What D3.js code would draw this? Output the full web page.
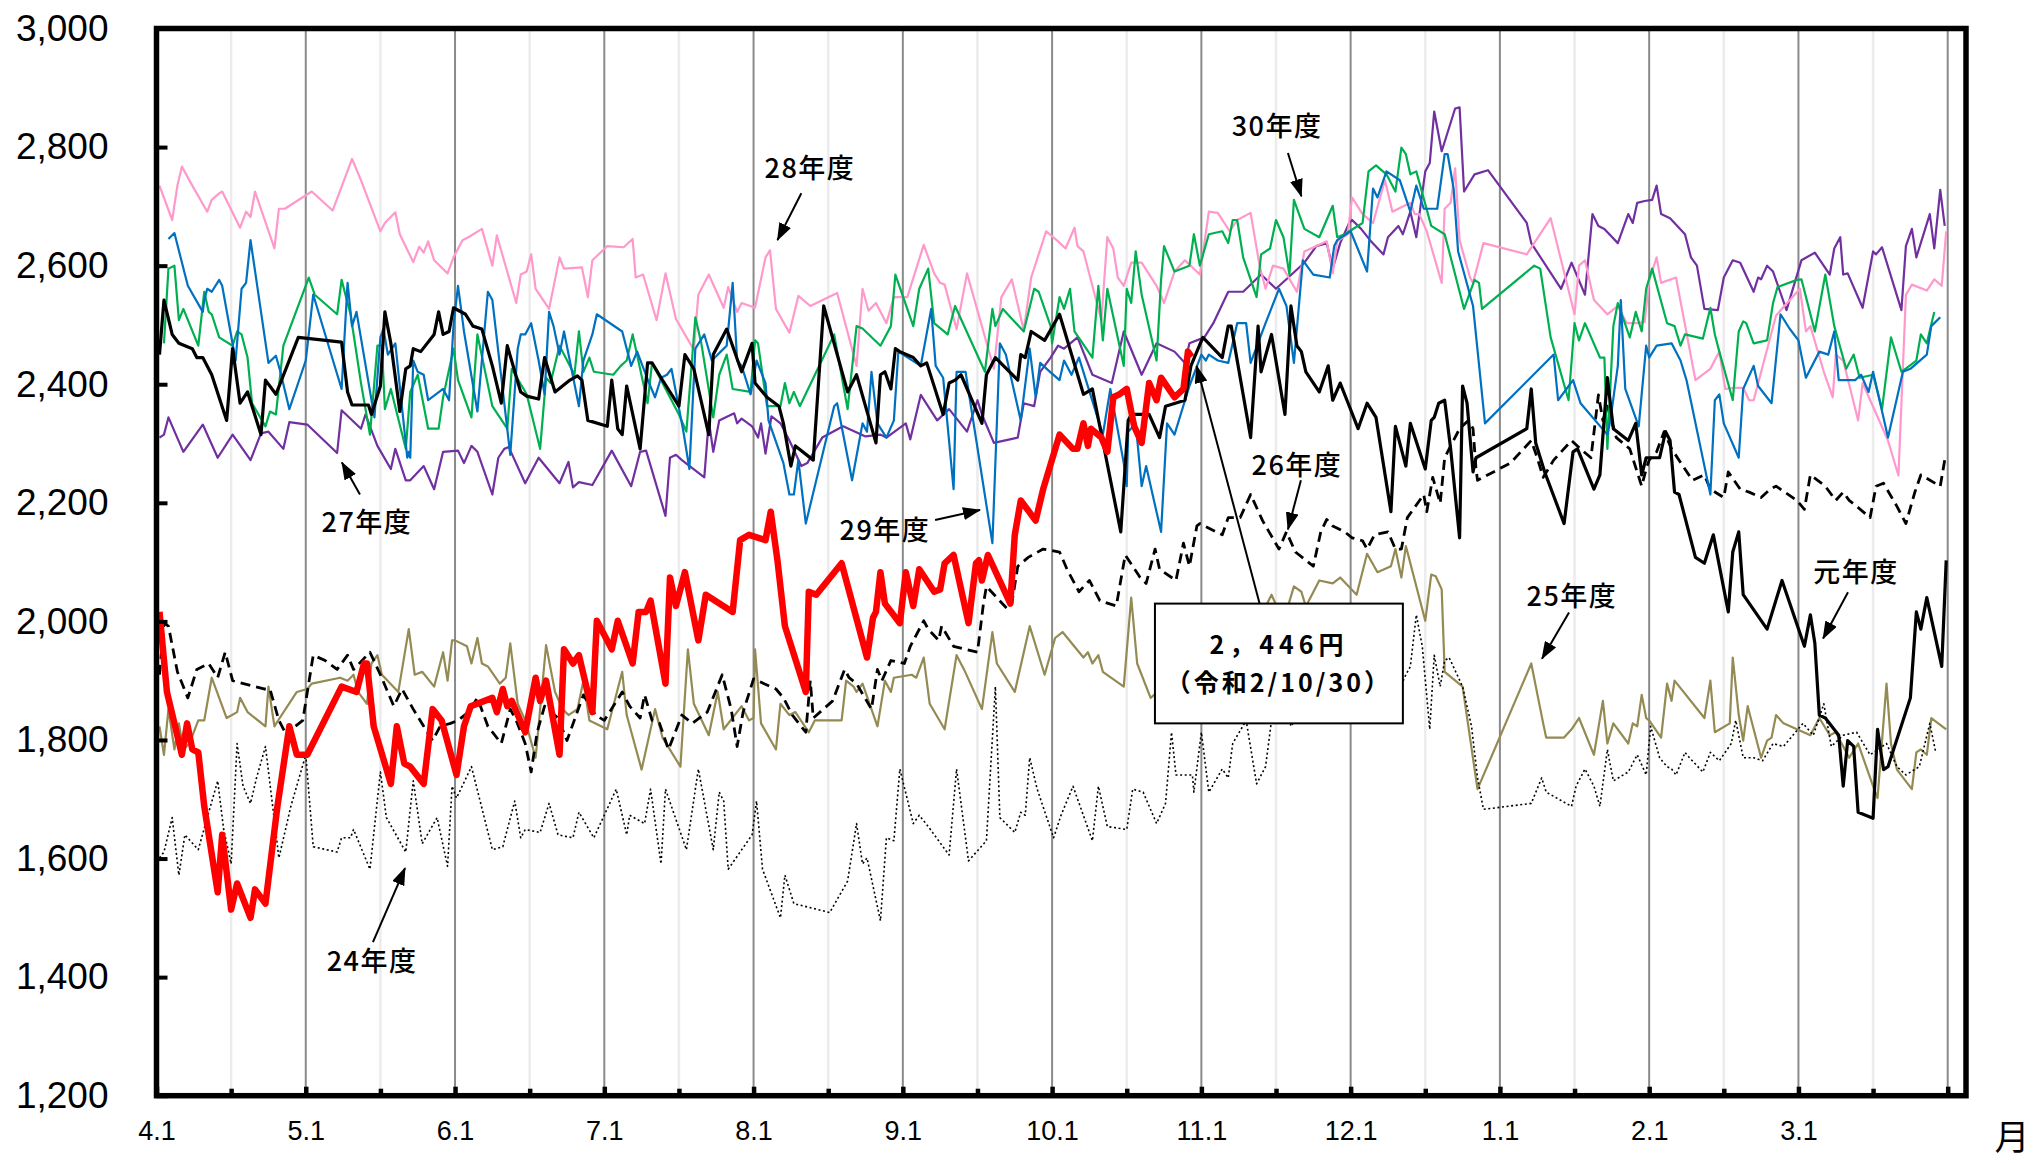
<!DOCTYPE html>
<html><head><meta charset="utf-8">
<script src="https://cdn.jsdelivr.net/npm/d3@7"></script>
<style>body{margin:0;background:#fff;}svg{display:block;}</style>
</head><body>
<script>
// x = months elapsed since April 1 (0 = 4.1, 12 = next 4.1); values in yen
const monthLabels = ["4.1","5.1","6.1","7.1","8.1","9.1","10.1","11.1","12.1","1.1","2.1","3.1"];
const yTicks = [1200,1400,1600,1800,2000,2200,2400,2600,2800,3000];

const fy24 = [[0.02,1601],[0.05,1611],[0.105,1669],[0.15,1572],[0.19,1640],[0.28,1615],[0.35,1678],[0.41,1731],[0.45,1649],[0.50,1591],[0.54,1794],[0.58,1722],[0.63,1693],[0.67,1736],[0.73,1789],[0.82,1601],[0.90,1688],[1.0,1775],[1.05,1620],[1.21,1611],[1.24,1635],[1.30,1635],[1.32,1649],[1.43,1582],[1.50,1746],[1.54,1669],[1.67,1611],[1.72,1731],[1.78,1625],[1.88,1669],[1.95,1587],[1.98,1722],[2.01,1702],[2.11,1755],[2.25,1615],[2.32,1620],[2.40,1697],[2.44,1635],[2.47,1649],[2.57,1644],[2.63,1693],[2.69,1640],[2.79,1635],[2.83,1678],[2.93,1635],[3.08,1717],[3.15,1640],[3.17,1673],[3.27,1659],[3.31,1717],[3.38,1591],[3.41,1717],[3.55,1615],[3.63,1751],[3.73,1615],[3.77,1712],[3.80,1697],[3.83,1582],[3.99,1640],[4.02,1697],[4.06,1582],[4.18,1500],[4.21,1572],[4.27,1524],[4.51,1509],[4.63,1562],[4.69,1659],[4.73,1591],[4.76,1601],[4.85,1495],[4.89,1635],[4.94,1630],[4.98,1751],[5.07,1659],[5.11,1673],[5.17,1654],[5.31,1606],[5.36,1751],[5.44,1596],[5.56,1630],[5.62,1890],[5.65,1669],[5.75,1644],[5.79,1678],[5.82,1673],[5.85,1770],[5.90,1717],[6.01,1635],[6.06,1673],[6.14,1722],[6.27,1630],[6.31,1722],[6.37,1654],[6.50,1649],[6.54,1717],[6.61,1712],[6.70,1659],[6.76,1693],[6.80,1813],[6.83,1741],[6.94,1741],[6.95,1712],[7.0,1813],[7.05,1712],[7.14,1751],[7.18,1736],[7.21,1794],[7.30,1833],[7.37,1726],[7.43,1755],[7.47,1833],[7.55,1880],[7.60,1823],[7.70,1860],[7.80,1900],[7.90,1870],[8.0,1890],[8.10,1930],[8.20,1900],[8.30,1870],[8.37,1910],[8.40,1924],[8.44,2011],[8.48,1958],[8.53,1818],[8.56,1943],[8.60,1890],[8.63,1934],[8.66,1939],[8.75,1890],[8.81,1823],[8.85,1736],[8.89,1683],[9.21,1693],[9.28,1736],[9.31,1712],[9.48,1688],[9.51,1722],[9.57,1751],[9.63,1722],[9.67,1688],[9.72,1784],[9.76,1731],[9.86,1746],[9.92,1775],[9.98,1741],[10.01,1823],[10.07,1770],[10.12,1755],[10.15,1751],[10.18,1741],[10.24,1779],[10.27,1770],[10.36,1746],[10.41,1779],[10.47,1765],[10.55,1794],[10.58,1833],[10.63,1770],[10.70,1770],[10.76,1765],[10.83,1794],[10.90,1789],[11.03,1828],[11.10,1808],[11.17,1861],[11.22,1789],[11.30,1808],[11.39,1813],[11.48,1775],[11.59,1794],[11.66,1755],[11.72,1741],[11.81,1755],[11.88,1828],[11.92,1779]];

const fy25 = [[0.02,1823],[0.05,1775],[0.08,1852],[0.12,1784],[0.15,1828],[0.18,1784],[0.22,1794],[0.28,1833],[0.32,1833],[0.37,1905],[0.47,1837],[0.54,1847],[0.56,1871],[0.61,1847],[0.73,1823],[0.75,1890],[0.79,1823],[0.82,1835],[0.94,1881],[1.01,1886],[1.04,1895],[1.23,1905],[1.28,1900],[1.32,1910],[1.35,1881],[1.41,1861],[1.44,1929],[1.48,1943],[1.51,1910],[1.62,1881],[1.69,1987],[1.73,1910],[1.78,1915],[1.86,1890],[1.92,1948],[1.95,1900],[1.98,1968],[2.0,1968],[2.08,1958],[2.11,1929],[2.15,1972],[2.18,1929],[2.22,1924],[2.30,1895],[2.34,1905],[2.37,1963],[2.42,1861],[2.47,1833],[2.54,1770],[2.61,1960],[2.67,1881],[2.72,1852],[2.76,1842],[2.82,1852],[2.86,1900],[2.90,1833],[3.02,1818],[3.12,1915],[3.15,1842],[3.25,1750],[3.34,1852],[3.39,1804],[3.51,1755],[3.56,1953],[3.60,1861],[3.70,1808],[3.76,1881],[3.80,1818],[3.92,1857],[3.97,1833],[4.0,1837],[4.01,1953],[4.05,1828],[4.15,1784],[4.18,1861],[4.24,1842],[4.28,1847],[4.37,1813],[4.41,1833],[4.59,1833],[4.62,1900],[4.67,1890],[4.69,1881],[4.73,1895],[4.83,1823],[4.88,1900],[4.92,1881],[4.94,1905],[5.06,1910],[5.09,1905],[5.14,1939],[5.18,1861],[5.28,1818],[5.36,1943],[5.41,1919],[5.53,1852],[5.60,1982],[5.63,1929],[5.75,1881],[5.85,1992],[5.95,1910],[6.02,1972],[6.07,1982],[6.21,1939],[6.24,1948],[6.27,1929],[6.31,1943],[6.34,1915],[6.48,1890],[6.53,2040],[6.57,1929],[6.66,1871],[6.80,1900],[6.95,1950],[7.10,1930],[7.25,1990],[7.40,2010],[7.47,2045],[7.55,2000],[7.62,2059],[7.67,2050],[7.70,2025],[7.79,2069],[7.88,2064],[7.93,2074],[8.04,2045],[8.11,2114],[8.18,2083],[8.27,2093],[8.30,2122],[8.34,2074],[8.37,2127],[8.50,2001],[8.54,2079],[8.57,2076],[8.61,2054],[8.63,1915],[8.75,1890],[8.85,1717],[9.21,1929],[9.29,1828],[9.31,1804],[9.43,1804],[9.48,1818],[9.53,1837],[9.63,1775],[9.69,1866],[9.72,1794],[9.76,1828],[9.86,1794],[9.89,1828],[9.92,1823],[9.95,1876],[9.98,1837],[10.0,1833],[10.08,1804],[10.12,1895],[10.15,1866],[10.17,1900],[10.37,1837],[10.41,1900],[10.44,1813],[10.54,1828],[10.56,1939],[10.60,1842],[10.63,1799],[10.66,1857],[10.75,1770],[10.79,1799],[10.82,1804],[10.85,1842],[10.90,1828],[11.08,1808],[11.14,1837],[11.21,1808],[11.25,1813],[11.34,1770],[11.40,1794],[11.50,1722],[11.53,1702],[11.59,1895],[11.62,1794],[11.66,1750],[11.76,1717],[11.79,1779],[11.82,1784],[11.86,1775],[11.89,1837],[11.99,1818]];

const fy26 = [[0.02,1910],[0.05,1997],[0.08,1992],[0.14,1915],[0.21,1871],[0.27,1919],[0.35,1929],[0.41,1905],[0.46,1948],[0.48,1929],[0.51,1900],[0.72,1886],[0.76,1886],[0.82,1833],[0.88,1804],[0.93,1823],[0.98,1833],[1.05,1943],[1.13,1934],[1.21,1919],[1.28,1943],[1.32,1919],[1.43,1948],[1.50,1910],[1.59,1857],[1.645,1886],[1.72,1852],[1.79,1823],[1.85,1799],[1.90,1823],[1.97,1828],[2.02,1833],[2.09,1847],[2.15,1871],[2.22,1823],[2.31,1794],[2.37,1852],[2.41,1833],[2.47,1794],[2.51,1746],[2.55,1813],[2.60,1857],[2.69,1837],[2.75,1799],[2.86,1876],[2.94,1842],[3.0,1833],[3.12,1881],[3.17,1857],[3.24,1837],[3.27,1876],[3.32,1833],[3.37,1828],[3.43,1784],[3.52,1842],[3.59,1828],[3.69,1847],[3.79,1910],[3.85,1852],[3.89,1789],[3.93,1847],[4.0,1903],[4.15,1886],[4.20,1871],[4.26,1842],[4.35,1813],[4.38,1900],[4.40,1837],[4.53,1866],[4.61,1919],[4.64,1905],[4.69,1895],[4.79,1852],[4.83,1919],[4.86,1900],[4.92,1934],[5.01,1929],[5.05,1958],[5.14,2001],[5.17,1987],[5.24,1968],[5.26,1992],[5.34,1958],[5.50,1948],[5.54,2030],[5.56,2059],[5.70,2021],[5.73,2030],[5.77,2093],[5.84,2108],[5.94,2122],[6.05,2117],[6.10,2088],[6.18,2050],[6.25,2069],[6.32,2035],[6.43,2026],[6.49,2112],[6.59,2074],[6.63,2064],[6.69,2122],[6.72,2088],[6.83,2069],[6.88,2132],[6.92,2093],[6.97,2161],[6.99,2165],[7.14,2146],[7.18,2175],[7.26,2175],[7.33,2214],[7.41,2170],[7.52,2122],[7.57,2151],[7.63,2117],[7.75,2093],[7.80,2151],[7.84,2172],[7.88,2161],[7.96,2151],[8.01,2141],[8.08,2136],[8.11,2122],[8.16,2146],[8.25,2151],[8.30,2122],[8.34,2122],[8.38,2175],[8.49,2214],[8.51,2185],[8.55,2243],[8.60,2199],[8.63,2276],[8.66,2291],[8.73,2325],[8.79,2339],[8.82,2325],[8.84,2257],[8.85,2238],[9.07,2267],[9.21,2305],[9.25,2276],[9.29,2243],[9.36,2272],[9.48,2305],[9.54,2291],[9.61,2276],[9.66,2382],[9.69,2339],[9.72,2363],[9.78,2310],[9.87,2291],[9.95,2228],[9.98,2257],[10.0,2272],[10.05,2286],[10.10,2320],[10.15,2291],[10.29,2238],[10.37,2247],[10.41,2223],[10.50,2209],[10.53,2252],[10.61,2223],[10.67,2218],[10.75,2209],[10.81,2223],[10.85,2228],[10.99,2204],[11.04,2189],[11.08,2247],[11.18,2228],[11.25,2204],[11.30,2218],[11.34,2204],[11.39,2194],[11.48,2175],[11.52,2228],[11.57,2233],[11.66,2194],[11.72,2165],[11.78,2218],[11.82,2247],[11.95,2228],[11.98,2272]];

const fy27 = [[0.02,2310],[0.05,2315],[0.08,2344],[0.18,2286],[0.31,2332],[0.41,2276],[0.51,2315],[0.63,2272],[0.70,2317],[0.75,2320],[0.85,2291],[0.89,2336],[1.01,2332],[1.21,2284],[1.24,2356],[1.37,2325],[1.40,2349],[1.48,2296],[1.57,2257],[1.60,2291],[1.67,2238],[1.70,2238],[1.79,2262],[1.86,2223],[1.92,2286],[2.02,2288],[2.06,2267],[2.11,2296],[2.15,2286],[2.25,2214],[2.29,2276],[2.33,2291],[2.36,2294],[2.47,2233],[2.56,2276],[2.70,2233],[2.76,2269],[2.79,2226],[2.83,2235],[2.92,2230],[3.05,2288],[3.18,2228],[3.24,2286],[3.28,2288],[3.41,2178],[3.44,2276],[3.48,2281],[3.52,2272],[3.67,2243],[3.70,2339],[3.73,2286],[3.77,2339],[3.87,2351],[3.89,2334],[3.92,2342],[3.99,2329],[4.03,2310],[4.05,2334],[4.08,2283],[4.12,2346],[4.18,2334],[4.24,2305],[4.32,2262],[4.36,2267],[4.46,2310],[4.60,2329],[4.75,2312],[4.85,2315],[4.89,2310],[5.02,2334],[5.05,2307],[5.12,2382],[5.23,2339],[5.31,2358],[5.43,2320],[5.50,2373],[5.53,2349],[5.61,2301],[5.77,2310],[5.81,2368],[5.88,2363],[5.92,2421],[5.99,2445],[6.04,2465],[6.08,2460],[6.17,2479],[6.27,2416],[6.40,2402],[6.48,2489],[6.60,2416],[6.70,2469],[6.82,2455],[6.89,2436],[6.92,2469],[7.02,2479],[7.08,2503],[7.18,2556],[7.28,2556],[7.40,2585],[7.50,2561],[7.69,2605],[7.77,2633],[7.84,2638],[7.88,2595],[7.93,2638],[7.99,2672],[8.01,2677],[8.07,2662],[8.13,2643],[8.22,2619],[8.25,2648],[8.32,2667],[8.35,2653],[8.40,2691],[8.44,2648],[8.50,2759],[8.53,2773],[8.56,2860],[8.61,2793],[8.70,2865],[8.73,2867],[8.76,2725],[8.83,2754],[8.92,2761],[9.18,2672],[9.21,2638],[9.41,2561],[9.48,2605],[9.57,2551],[9.62,2687],[9.66,2667],[9.70,2662],[9.79,2638],[9.86,2687],[9.89,2672],[9.92,2706],[9.97,2709],[10.02,2711],[10.05,2735],[10.08,2687],[10.14,2680],[10.24,2653],[10.28,2614],[10.32,2600],[10.37,2527],[10.46,2525],[10.50,2580],[10.56,2609],[10.61,2605],[10.70,2556],[10.73,2580],[10.75,2577],[10.79,2600],[10.83,2590],[10.92,2525],[11.02,2609],[11.11,2622],[11.21,2585],[11.24,2629],[11.28,2648],[11.30,2585],[11.33,2587],[11.43,2529],[11.50,2624],[11.52,2619],[11.56,2631],[11.69,2525],[11.72,2633],[11.76,2662],[11.79,2614],[11.88,2687],[11.91,2629],[11.95,2728],[11.98,2667]];

const fy28 = [[0.02,2735],[0.105,2677],[0.14,2735],[0.17,2767],[0.24,2735],[0.34,2691],[0.37,2711],[0.42,2722],[0.44,2725],[0.56,2664],[0.60,2691],[0.63,2682],[0.66,2725],[0.79,2629],[0.82,2696],[0.86,2696],[1.04,2725],[1.18,2693],[1.31,2780],[1.37,2744],[1.50,2658],[1.53,2672],[1.60,2690],[1.63,2653],[1.72,2606],[1.76,2632],[1.79,2622],[1.82,2641],[1.86,2609],[1.95,2587],[1.99,2614],[2.05,2643],[2.09,2648],[2.18,2662],[2.25,2600],[2.28,2651],[2.41,2537],[2.44,2585],[2.48,2590],[2.51,2619],[2.54,2561],[2.63,2527],[2.70,2614],[2.73,2595],[2.85,2597],[2.89,2547],[2.92,2609],[3.02,2633],[3.13,2631],[3.19,2645],[3.21,2580],[3.26,2585],[3.35,2508],[3.41,2587],[3.48,2510],[3.60,2458],[3.63,2551],[3.70,2585],[3.80,2529],[3.83,2564],[3.89,2522],[3.92,2537],[4.01,2529],[4.08,2614],[4.11,2626],[4.15,2527],[4.24,2487],[4.30,2549],[4.38,2532],[4.56,2554],[4.69,2431],[4.73,2561],[4.77,2524],[4.82,2537],[4.89,2503],[4.94,2547],[5.03,2547],[5.14,2635],[5.21,2587],[5.25,2571],[5.28,2568],[5.36,2493],[5.43,2587],[5.61,2426],[5.66,2547],[5.73,2577],[5.81,2491],[5.86,2580],[5.96,2658],[6.04,2641],[6.09,2629],[6.15,2664],[6.17,2633],[6.21,2624],[6.31,2527],[6.33,2508],[6.37,2648],[6.41,2629],[6.44,2580],[6.48,2566],[6.53,2605],[6.60,2605],[6.70,2566],[6.75,2537],[6.82,2590],[6.89,2609],[6.99,2585],[7.05,2691],[7.11,2689],[7.19,2658],[7.24,2677],[7.33,2689],[7.39,2600],[7.43,2561],[7.48,2600],[7.55,2595],[7.64,2556],[7.69,2624],[7.84,2641],[7.88,2587],[7.91,2641],[7.98,2653],[8.01,2715],[8.08,2687],[8.15,2672],[8.23,2744],[8.28,2691],[8.40,2706],[8.43,2687],[8.46,2687],[8.51,2658],[8.61,2571],[8.63,2696],[8.67,2706],[8.70,2764],[8.73,2643],[8.80,2580],[8.82,2571],[8.89,2638],[9.18,2619],[9.34,2680],[9.50,2518],[9.53,2600],[9.57,2609],[9.63,2542],[9.72,2518],[9.79,2532],[9.85,2503],[9.92,2503],[9.97,2505],[10.0,2575],[10.05,2614],[10.08,2571],[10.18,2580],[10.31,2407],[10.41,2426],[10.47,2455],[10.51,2392],[10.57,2394],[10.63,2394],[10.67,2373],[10.70,2373],[10.85,2516],[11.01,2561],[11.05,2489],[11.08,2498],[11.17,2421],[11.23,2378],[11.25,2450],[11.30,2440],[11.40,2339],[11.43,2402],[11.60,2305],[11.67,2246],[11.72,2551],[11.76,2568],[11.86,2558],[11.91,2577],[11.96,2566],[11.99,2658]];

const fy29 = [[0.08,2645],[0.12,2655],[0.21,2566],[0.31,2522],[0.32,2542],[0.34,2561],[0.37,2556],[0.42,2576],[0.44,2566],[0.53,2440],[0.57,2561],[0.60,2571],[0.63,2643],[0.75,2436],[0.80,2448],[0.83,2421],[0.89,2358],[1.0,2440],[1.05,2551],[1.24,2392],[1.28,2571],[1.31,2498],[1.34,2522],[1.46,2344],[1.50,2479],[1.52,2494],[1.55,2450],[1.60,2469],[1.68,2276],[1.69,2286],[1.70,2276],[1.72,2440],[1.75,2421],[1.79,2416],[1.82,2373],[1.92,2392],[1.96,2373],[1.99,2500],[2.02,2566],[2.06,2489],[2.15,2354],[2.22,2556],[2.25,2542],[2.37,2281],[2.42,2460],[2.44,2484],[2.47,2484],[2.51,2503],[2.56,2440],[2.60,2383],[2.63,2522],[2.66,2498],[2.70,2450],[2.73,2489],[2.83,2363],[2.86,2440],[2.92,2484],[2.95,2518],[3.12,2489],[3.18,2431],[3.22,2455],[3.30,2402],[3.34,2378],[3.38,2411],[3.42,2416],[3.45,2426],[3.53,2320],[3.57,2257],[3.61,2460],[3.67,2484],[3.72,2440],[3.78,2455],[3.82,2465],[3.86,2571],[3.89,2440],[3.92,2431],[3.98,2383],[4.02,2440],[4.08,2402],[4.10,2339],[4.20,2267],[4.24,2214],[4.27,2214],[4.30,2272],[4.35,2165],[4.54,2363],[4.56,2368],[4.66,2238],[4.73,2334],[4.76,2320],[4.79,2421],[4.83,2334],[4.89,2310],[4.94,2339],[4.97,2455],[5.12,2431],[5.19,2527],[5.22,2431],[5.27,2411],[5.34,2223],[5.36,2421],[5.42,2421],[5.60,2132],[5.65,2469],[5.69,2450],[5.79,2339],[5.85,2460],[5.89,2378],[5.92,2436],[5.99,2420],[6.05,2407],[6.08,2440],[6.13,2416],[6.18,2445],[6.34,2315],[6.39,2392],[6.48,2267],[6.50,2228],[6.51,2320],[6.56,2334],[6.60,2228],[6.63,2262],[6.73,2151],[6.77,2334],[6.82,2315],[6.92,2397],[7.0,2450],[7.03,2440],[7.05,2450],[7.11,2440],[7.18,2436],[7.24,2503],[7.30,2503],[7.33,2436],[7.43,2503],[7.52,2561],[7.57,2532],[7.62,2436],[7.68,2609],[7.75,2585],[7.86,2580],[7.89,2633],[7.91,2643],[8.0,2658],[8.11,2590],[8.15,2730],[8.18,2715],[8.24,2759],[8.33,2744],[8.40,2691],[8.44,2735],[8.49,2696],[8.58,2696],[8.63,2788],[8.65,2788],[8.69,2730],[8.72,2624],[8.82,2532],[8.90,2334],[9.36,2450],[9.39,2373],[9.49,2407],[9.54,2368],[9.72,2315],[9.74,2339],[9.79,2431],[9.81,2542],[9.84,2392],[9.93,2329],[9.98,2465],[10.0,2445],[10.05,2465],[10.15,2469],[10.21,2440],[10.25,2407],[10.41,2214],[10.44,2373],[10.47,2383],[10.50,2334],[10.60,2276],[10.63,2392],[10.70,2431],[10.73,2397],[10.82,2368],[10.88,2518],[10.94,2494],[11.0,2474],[11.05,2411],[11.14,2455],[11.20,2450],[11.24,2489],[11.27,2407],[11.38,2407],[11.42,2416],[11.47,2387],[11.50,2421],[11.60,2310],[11.70,2421],[11.75,2426],[11.86,2450],[11.89,2498],[11.95,2513]];

const fy30 = [[0.05,2469],[0.08,2595],[0.12,2600],[0.15,2508],[0.18,2527],[0.28,2465],[0.32,2556],[0.35,2522],[0.37,2518],[0.42,2479],[0.51,2465],[0.54,2489],[0.57,2484],[0.61,2445],[0.64,2368],[0.73,2329],[0.76,2354],[0.80,2349],[0.85,2465],[1.02,2580],[1.06,2551],[1.21,2518],[1.24,2576],[1.30,2518],[1.37,2402],[1.43,2315],[1.48,2465],[1.51,2465],[1.53,2358],[1.57,2392],[1.67,2291],[1.70,2387],[1.75,2416],[1.82,2325],[1.89,2325],[1.92,2378],[1.99,2460],[2.02,2407],[2.11,2344],[2.15,2484],[2.25,2363],[2.35,2325],[2.38,2426],[2.48,2383],[2.57,2291],[2.61,2411],[2.64,2402],[2.70,2465],[2.80,2416],[2.83,2489],[2.86,2421],[2.90,2445],[2.93,2421],[3.06,2416],[3.11,2431],[3.15,2440],[3.19,2484],[3.29,2368],[3.32,2436],[3.50,2349],[3.55,2320],[3.61,2513],[3.65,2469],[3.73,2344],[3.77,2416],[3.82,2450],[3.86,2392],[3.98,2387],[4.01,2474],[4.03,2469],[4.09,2363],[4.18,2363],[4.21,2402],[4.24,2368],[4.27,2387],[4.31,2363],[4.54,2484],[4.63,2358],[4.69,2498],[4.73,2494],[4.85,2465],[4.92,2498],[4.95,2585],[5.07,2498],[5.11,2561],[5.17,2595],[5.21,2503],[5.30,2484],[5.35,2532],[5.55,2421],[5.60,2527],[5.62,2498],[5.67,2527],[5.81,2489],[5.88,2561],[5.91,2556],[5.99,2498],[6.0,2469],[6.05,2547],[6.08,2527],[6.12,2561],[6.15,2489],[6.27,2445],[6.31,2566],[6.34,2474],[6.37,2561],[6.48,2431],[6.50,2561],[6.53,2537],[6.56,2624],[6.60,2551],[6.70,2440],[6.73,2576],[6.75,2633],[6.82,2590],[6.92,2600],[6.95,2653],[6.99,2600],[7.05,2653],[7.14,2658],[7.18,2638],[7.21,2677],[7.24,2677],[7.28,2614],[7.37,2547],[7.40,2619],[7.46,2629],[7.50,2677],[7.55,2648],[7.59,2585],[7.62,2711],[7.69,2662],[7.79,2648],[7.88,2701],[7.91,2648],[7.96,2653],[8.08,2672],[8.12,2759],[8.17,2769],[8.24,2754],[8.30,2725],[8.34,2799],[8.37,2788],[8.40,2754],[8.44,2759],[8.54,2667],[8.63,2653],[8.76,2527],[8.83,2576],[8.86,2571],[8.88,2527],[9.23,2600],[9.27,2595],[9.34,2479],[9.46,2373],[9.50,2503],[9.53,2474],[9.57,2503],[9.67,2445],[9.70,2445],[9.72,2291],[9.76,2498],[9.79,2537],[9.87,2479],[9.91,2522],[9.95,2489],[9.98,2561],[10.02,2595],[10.12,2503],[10.17,2498],[10.21,2465],[10.24,2484],[10.36,2477],[10.41,2529],[10.44,2484],[10.47,2455],[10.56,2373],[10.60,2489],[10.63,2506],[10.65,2503],[10.70,2469],[10.79,2474],[10.83,2537],[10.86,2564],[10.99,2576],[11.02,2577],[11.11,2489],[11.18,2585],[11.24,2498],[11.32,2426],[11.37,2450],[11.41,2411],[11.50,2416],[11.56,2358],[11.62,2479],[11.69,2421],[11.79,2440],[11.82,2484],[11.86,2469],[11.91,2522]];

const fyR1 = [[0.02,2450],[0.05,2542],[0.105,2484],[0.15,2469],[0.24,2460],[0.27,2445],[0.31,2445],[0.37,2416],[0.47,2339],[0.51,2460],[0.56,2368],[0.61,2387],[0.70,2315],[0.73,2407],[0.80,2383],[0.95,2479],[1.24,2471],[1.28,2387],[1.31,2365],[1.42,2365],[1.44,2349],[1.50,2397],[1.53,2522],[1.57,2469],[1.63,2354],[1.67,2426],[1.70,2431],[1.72,2460],[1.77,2455],[1.86,2484],[1.89,2522],[1.92,2484],[1.96,2489],[1.99,2529],[2.07,2518],[2.12,2498],[2.18,2493],[2.25,2431],[2.31,2368],[2.35,2465],[2.44,2387],[2.48,2380],[2.56,2375],[2.60,2445],[2.67,2387],[2.77,2407],[2.82,2414],[2.85,2407],[2.89,2339],[3.02,2329],[3.05,2407],[3.09,2325],[3.12,2315],[3.15,2397],[3.24,2291],[3.29,2436],[3.32,2436],[3.38,2411],[3.50,2363],[3.54,2450],[3.60,2426],[3.70,2315],[3.73,2450],[3.82,2493],[3.92,2421],[3.99,2469],[4.01,2402],[4.09,2378],[4.17,2363],[4.20,2334],[4.25,2262],[4.28,2296],[4.40,2272],[4.47,2532],[4.63,2387],[4.69,2416],[4.82,2301],[4.85,2416],[4.88,2421],[4.92,2392],[4.95,2460],[4.98,2455],[5.07,2445],[5.12,2431],[5.16,2436],[5.27,2349],[5.31,2402],[5.35,2407],[5.39,2416],[5.53,2334],[5.56,2416],[5.62,2445],[5.77,2407],[5.79,2450],[5.82,2445],[5.86,2489],[5.95,2474],[6.05,2518],[6.21,2383],[6.27,2392],[6.46,2151],[6.51,2339],[6.53,2349],[6.65,2349],[6.72,2310],[6.76,2363],[6.89,2373],[6.93,2431],[7.01,2479],[7.14,2445],[7.18,2498],[7.20,2498],[7.33,2310],[7.38,2498],[7.40,2421],[7.47,2484],[7.56,2349],[7.60,2532],[7.64,2465],[7.67,2455],[7.70,2421],[7.79,2387],[7.85,2431],[7.88,2373],[7.93,2402],[7.98,2370],[8.05,2325],[8.11,2368],[8.17,2344],[8.27,2185],[8.30,2329],[8.37,2262],[8.40,2334],[8.50,2257],[8.54,2339],[8.56,2344],[8.59,2368],[8.63,2373],[8.67,2291],[8.73,2141],[8.75,2397],[8.78,2368],[8.82,2252],[8.84,2276],[9.18,2325],[9.21,2392],[9.24,2301],[9.30,2252],[9.43,2165],[9.49,2286],[9.52,2291],[9.63,2223],[9.67,2247],[9.72,2411],[9.76,2325],[9.86,2305],[9.91,2334],[9.95,2247],[9.98,2276],[10.07,2276],[10.11,2320],[10.14,2305],[10.17,2218],[10.20,2214],[10.31,2108],[10.37,2098],[10.43,2146],[10.53,2016],[10.56,2117],[10.60,2151],[10.63,2045],[10.79,1987],[10.89,2069],[11.04,1958],[11.08,2011],[11.11,1963],[11.14,1842],[11.18,1837],[11.27,1808],[11.30,1722],[11.33,1799],[11.37,1789],[11.40,1678],[11.50,1668],[11.53,1818],[11.57,1750],[11.60,1755],[11.75,1871],[11.79,2016],[11.82,1987],[11.86,2040],[11.96,1924],[11.99,2103]];

const fyR2 = [[0.02,2016],[0.07,1881],[0.17,1775],[0.205,1828],[0.24,1784],[0.28,1779],[0.32,1688],[0.41,1543],[0.44,1640],[0.50,1514],[0.54,1558],[0.63,1500],[0.66,1548],[0.73,1524],[0.81,1688],[0.89,1823],[0.94,1775],[1.01,1775],[1.24,1890],[1.34,1881],[1.39,1929],[1.41,1929],[1.455,1823],[1.57,1726],[1.61,1823],[1.66,1760],[1.70,1755],[1.79,1726],[1.85,1852],[1.91,1833],[2.01,1741],[2.06,1823],[2.105,1857],[2.25,1871],[2.28,1847],[2.32,1886],[2.35,1857],[2.38,1866],[2.47,1813],[2.54,1905],[2.57,1866],[2.61,1900],[2.70,1775],[2.73,1953],[2.79,1929],[2.83,1943],[2.92,1847],[2.95,2001],[3.05,1953],[3.09,2001],[3.19,1929],[3.23,2016],[3.28,2016],[3.31,2035],[3.41,1895],[3.44,2074],[3.48,2026],[3.54,2083],[3.63,1968],[3.68,2045],[3.86,2016],[3.91,2137],[3.97,2146],[4.08,2137],[4.115,2185],[4.16,2103],[4.21,1992],[4.35,1881],[4.37,2050],[4.42,2045],[4.59,2098],[4.76,1939],[4.80,2006],[4.82,2016],[4.85,2083],[4.88,2030],[4.98,1997],[5.02,2083],[5.07,2026],[5.11,2088],[5.21,2050],[5.25,2054],[5.28,2098],[5.34,2112],[5.44,1997],[5.49,2098],[5.51,2103],[5.53,2069],[5.57,2112],[5.72,2030],[5.75,2146],[5.79,2204],[5.89,2170],[5.94,2223],[6.05,2315],[6.14,2291],[6.17,2291],[6.21,2334],[6.24,2296],[6.26,2325],[6.33,2310],[6.37,2286],[6.41,2378],[6.45,2383],[6.50,2392],[6.55,2329],[6.60,2301],[6.65,2402],[6.70,2373],[6.73,2411],[6.82,2378],[6.88,2392],[6.91,2455],[6.935,2446]];

const seriesNames = ["24年度","25年度","26年度","27年度","28年度","29年度","30年度","元年度","令和2年度"];

const W = 2033, H = 1163;
const svg = d3.select("body").append("svg").attr("width", W).attr("height", H)
  .style("font-family", "'Liberation Sans', Arial, sans-serif");

const x = d3.scaleLinear().domain([0, 12]).range([156.5, 1947.7]);
const y = d3.scaleLinear().domain([1200, 3000]).range([1095.7, 28.5]);
const frameRight = 1966;

// gridlines
svg.append("g").selectAll("line").data(d3.range(0.5, 12, 1)).join("line")
  .attr("x1", d => x(d)).attr("x2", d => x(d)).attr("y1", y(3000)).attr("y2", y(1200))
  .attr("stroke", "#ececec").attr("stroke-width", 2.5);
svg.append("g").selectAll("line").data(d3.range(1, 13)).join("line")
  .attr("x1", d => x(d)).attr("x2", d => x(d)).attr("y1", y(3000)).attr("y2", y(1200))
  .attr("stroke", "#8a8a8a").attr("stroke-width", 2);

// series
const styles = [
  {d: fy25, c: "#948A54", w: 2.2},
  {d: fy24, c: "#000", w: 1.6, dash: "2,2.6"},
  {d: fy26, c: "#000", w: 2.8, dash: "10,6"},
  {d: fy27, c: "#7030A0", w: 2.2},
  {d: fy28, c: "#FF99CC", w: 2.2},
  {d: fy30, c: "#00B050", w: 2.2},
  {d: fy29, c: "#0070C0", w: 2.2},
  {d: fyR1, c: "#000", w: 3.2},
  {d: fyR2, c: "#FF0000", w: 6.5}
];
const line = d3.line().x(d => x(d[0])).y(d => y(d[1]));
svg.append("g").selectAll("path").data(styles).join("path")
  .attr("d", s => line(s.d)).attr("fill", "none")
  .attr("stroke", s => s.c).attr("stroke-width", s => s.w)
  .attr("stroke-dasharray", s => s.dash || null)
  .attr("stroke-linejoin", "round");

// frame
svg.append("rect").attr("x", x(0)).attr("y", y(3000))
  .attr("width", frameRight - x(0)).attr("height", y(1200) - y(3000))
  .attr("fill", "none").attr("stroke", "#000").attr("stroke-width", 5.5);

// y axis
const yAxis = svg.append("g").attr("transform", `translate(${x(0)},0)`)
  .call(d3.axisLeft(y).tickValues(yTicks).tickFormat(d3.format(","))
    .tickSizeInner(-11).tickSizeOuter(0).tickPadding(48));
yAxis.select(".domain").remove();
yAxis.selectAll(".tick line").attr("stroke", "#000").attr("stroke-width", 4);
yAxis.selectAll("text").attr("font-size", 37).attr("fill", "#000")
  .attr("font-family", "'Liberation Sans', Arial, sans-serif");

// x axis major
const xAxis = svg.append("g").attr("transform", `translate(0,${y(1200)})`)
  .call(d3.axisBottom(x).tickValues(d3.range(0, 13))
    .tickFormat(d => monthLabels[d] || "").tickSizeInner(-9).tickSizeOuter(0).tickPadding(25));
xAxis.select(".domain").remove();
xAxis.selectAll(".tick line").attr("stroke", "#000").attr("stroke-width", 4.5);
xAxis.selectAll("text").attr("font-size", 27).attr("fill", "#000")
  .attr("font-family", "'Liberation Sans Narrow', 'Liberation Sans', Arial, sans-serif");
// x axis minor
const xMinor = svg.append("g").attr("transform", `translate(0,${y(1200)})`)
  .call(d3.axisBottom(x).tickValues(d3.range(0.5, 12, 1)).tickFormat("").tickSizeInner(-7).tickSizeOuter(0));
xMinor.select(".domain").remove();
xMinor.selectAll(".tick line").attr("stroke", "#000").attr("stroke-width", 4.5);

svg.append("text").attr("x", 2012).attr("y", 1150).attr("text-anchor", "middle")
  .attr("font-size", 35).attr("font-family", "'Noto Sans CJK JP', sans-serif").text("月");

// arrowhead marker
svg.append("defs").append("marker").attr("id", "ah")
  .attr("viewBox", "0 0 18 13").attr("refX", 17).attr("refY", 6.5)
  .attr("markerWidth", 18).attr("markerHeight", 13).attr("markerUnits", "userSpaceOnUse")
  .attr("orient", "auto")
  .append("path").attr("d", "M0,0 L18,6.5 L0,13 z").attr("fill", "#000");

// series labels with arrows (positions in data coordinates)
const notes = [
  {t: seriesNames[4], at: [4.378, 2764], from: [4.32, 2722], to: [4.16, 2643]},
  {t: seriesNames[6], at: [7.507, 2835], from: [7.58, 2790], to: [7.67, 2717]},
  {t: seriesNames[3], at: [1.41, 2167], from: [1.363, 2214], to: [1.242, 2268]},
  {t: seriesNames[0], at: [1.444, 1427], from: [1.45, 1459], to: [1.665, 1584]},
  {t: seriesNames[5], at: [4.88, 2154], from: [5.216, 2171], to: [5.517, 2188]},
  {t: seriesNames[2], at: [7.64, 2263], from: [7.667, 2238], to: [7.58, 2155]},
  {t: seriesNames[1], at: [9.483, 2042], from: [9.463, 2015], to: [9.282, 1937]},
  {t: seriesNames[7], at: [11.386, 2084], from: [11.332, 2049], to: [11.165, 1971]}
];
const ng = svg.append("g");
notes.forEach(n => {
  ng.append("line").attr("x1", x(n.from[0])).attr("y1", y(n.from[1]))
    .attr("x2", x(n.to[0])).attr("y2", y(n.to[1]))
    .attr("stroke", "#000").attr("stroke-width", 2).attr("marker-end", "url(#ah)");
  ng.append("text").attr("x", x(n.at[0])).attr("y", y(n.at[1]) + 10)
    .attr("text-anchor", "middle").attr("font-size", 27).attr("font-weight", 500)
    .attr("letter-spacing", 1.5)
    .attr("font-family", "'Noto Sans CJK JP', sans-serif").text(n.t);
});

// value callout
const last = fyR2[fyR2.length - 1];
const box = {m0: 6.689, m1: 8.35, v0: 2030, v1: 1828};
svg.append("line").attr("x1", x(7.39)).attr("y1", y(box.v0))
  .attr("x2", x(last[0]) + 5).attr("y2", y(last[1]) + 9)
  .attr("stroke", "#000").attr("stroke-width", 2).attr("marker-end", "url(#ah)");
svg.append("rect").attr("x", x(box.m0)).attr("y", y(box.v0))
  .attr("width", x(box.m1) - x(box.m0)).attr("height", y(box.v1) - y(box.v0))
  .attr("fill", "#fff").attr("stroke", "#000").attr("stroke-width", 2);
const cx = (x(box.m0) + x(box.m1)) / 2;
svg.append("text").attr("x", cx).attr("y", y(box.v0) + 50).attr("text-anchor", "middle")
  .attr("font-weight", 700).attr("font-family", "'Noto Sans CJK JP', sans-serif")
  .attr("font-size", 25).attr("letter-spacing", 5)
  .text(d3.format(",")(last[1]).replace(",", "，") + "円");
svg.append("text").attr("x", cx).attr("y", y(box.v0) + 88).attr("text-anchor", "middle")
  .attr("font-weight", 700).attr("font-family", "'Noto Sans CJK JP', sans-serif")
  .attr("font-size", 25).attr("letter-spacing", 3)
  .text("（令和2/10/30）");
</script>
</body></html>
